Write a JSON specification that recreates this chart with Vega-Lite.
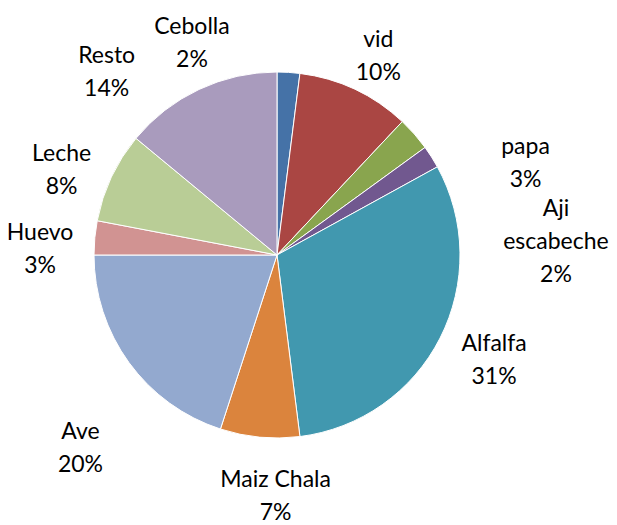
{
  "$schema": "https://vega.github.io/schema/vega-lite/v6.json",
  "width": 554,
  "height": 510,
  "padding": {"left": 0, "top": 0, "right": 63, "bottom": 15},
  "autosize": {"type": "none"},
  "background": "white",
  "config": {"view": {"stroke": null}},
  "data": {
    "values": [
      {"idx": 1, "cat": "Cebolla", "pct": 2, "label": "Cebolla\n2%"},
      {"idx": 2, "cat": "vid", "pct": 10, "label": "vid\n10%"},
      {"idx": 3, "cat": "papa", "pct": 3, "label": "papa\n3%"},
      {"idx": 4, "cat": "Aji escabeche", "pct": 2, "label": "Aji\nescabeche\n2%"},
      {"idx": 5, "cat": "Alfalfa", "pct": 31, "label": "Alfalfa\n31%"},
      {"idx": 6, "cat": "Maiz Chala", "pct": 7, "label": "Maiz Chala\n7%"},
      {"idx": 7, "cat": "Ave", "pct": 20, "label": "Ave\n20%"},
      {"idx": 8, "cat": "Huevo", "pct": 3, "label": "Huevo\n3%"},
      {"idx": 9, "cat": "Leche", "pct": 8, "label": "Leche\n8%"},
      {"idx": 10, "cat": "Resto", "pct": 14, "label": "Resto\n14%"}
    ]
  },
  "encoding": {
    "theta": {"field": "pct", "type": "quantitative", "stack": true},
    "order": {"field": "idx", "type": "quantitative"}
  },
  "layer": [
    {
      "mark": {"type": "arc", "radius": 183, "stroke": "white", "strokeWidth": 1},
      "encoding": {
        "color": {
          "field": "cat",
          "type": "nominal",
          "legend": null,
          "scale": {
            "domain": ["Cebolla", "vid", "papa", "Aji escabeche", "Alfalfa", "Maiz Chala", "Ave", "Huevo", "Leche", "Resto"],
            "range": ["#4572A7", "#AA4643", "#89A54E", "#71588F", "#4198AF", "#DB843D", "#93A9CF", "#D19392", "#B9CD96", "#A99BBD"]
          }
        }
      }
    },
    {
      "mark": {"type": "text", "radius": 238, "dx": 0, "dy": 0, "font": "Lato", "fontSize": 23, "lineBreak": "\n", "lineHeight": 33, "baseline": "middle", "align": "center", "color": "black"},
      "encoding": {
        "text": {"field": "label", "type": "nominal"},
        "opacity": {"condition": {"test": "indexof(['vid','Huevo','Leche'], datum.cat) >= 0", "value": 1}, "value": 0}
      }
    },
    {
      "mark": {"type": "text", "radius": 238, "dx": -100, "dy": 10, "font": "Lato", "fontSize": 23, "lineBreak": "\n", "lineHeight": 33, "baseline": "middle", "align": "center", "color": "black"},
      "encoding": {
        "text": {"field": "label", "type": "nominal"},
        "opacity": {"condition": {"test": "datum.cat === 'Cebolla'", "value": 1}, "value": 0}
      }
    },
    {
      "mark": {"type": "text", "radius": 238, "dx": 70, "dy": 49, "font": "Lato", "fontSize": 23, "lineBreak": "\n", "lineHeight": 33, "baseline": "middle", "align": "center", "color": "black"},
      "encoding": {
        "text": {"field": "label", "type": "nominal"},
        "opacity": {"condition": {"test": "datum.cat === 'papa'", "value": 1}, "value": 0}
      }
    },
    {
      "mark": {"type": "text", "radius": 238, "dx": 78, "dy": 82, "font": "Lato", "fontSize": 23, "lineBreak": "\n", "lineHeight": 33, "baseline": "middle", "align": "center", "color": "black"},
      "encoding": {
        "text": {"field": "label", "type": "nominal"},
        "opacity": {"condition": {"test": "datum.cat === 'Aji escabeche'", "value": 1}, "value": 0}
      }
    },
    {
      "mark": {"type": "text", "radius": 238, "dx": 5, "dy": -19, "font": "Lato", "fontSize": 23, "lineBreak": "\n", "lineHeight": 33, "baseline": "middle", "align": "center", "color": "black"},
      "encoding": {
        "text": {"field": "label", "type": "nominal"},
        "opacity": {"condition": {"test": "datum.cat === 'Alfalfa'", "value": 1}, "value": 0}
      }
    },
    {
      "mark": {"type": "text", "radius": 238, "dx": 21, "dy": -12, "font": "Lato", "fontSize": 23, "lineBreak": "\n", "lineHeight": 33, "baseline": "middle", "align": "center", "color": "black"},
      "encoding": {
        "text": {"field": "label", "type": "nominal"},
        "opacity": {"condition": {"test": "datum.cat === 'Maiz Chala'", "value": 1}, "value": 0}
      }
    },
    {
      "mark": {"type": "text", "radius": 238, "dx": -4, "dy": 37, "font": "Lato", "fontSize": 23, "lineBreak": "\n", "lineHeight": 33, "baseline": "middle", "align": "center", "color": "black"},
      "encoding": {
        "text": {"field": "label", "type": "nominal"},
        "opacity": {"condition": {"test": "datum.cat === 'Ave'", "value": 1}, "value": 0}
      }
    },
    {
      "mark": {"type": "text", "radius": 238, "dx": -69, "dy": 16, "font": "Lato", "fontSize": 23, "lineBreak": "\n", "lineHeight": 33, "baseline": "middle", "align": "center", "color": "black"},
      "encoding": {
        "text": {"field": "label", "type": "nominal"},
        "opacity": {"condition": {"test": "datum.cat === 'Resto'", "value": 1}, "value": 0}
      }
    }
  ]
}
